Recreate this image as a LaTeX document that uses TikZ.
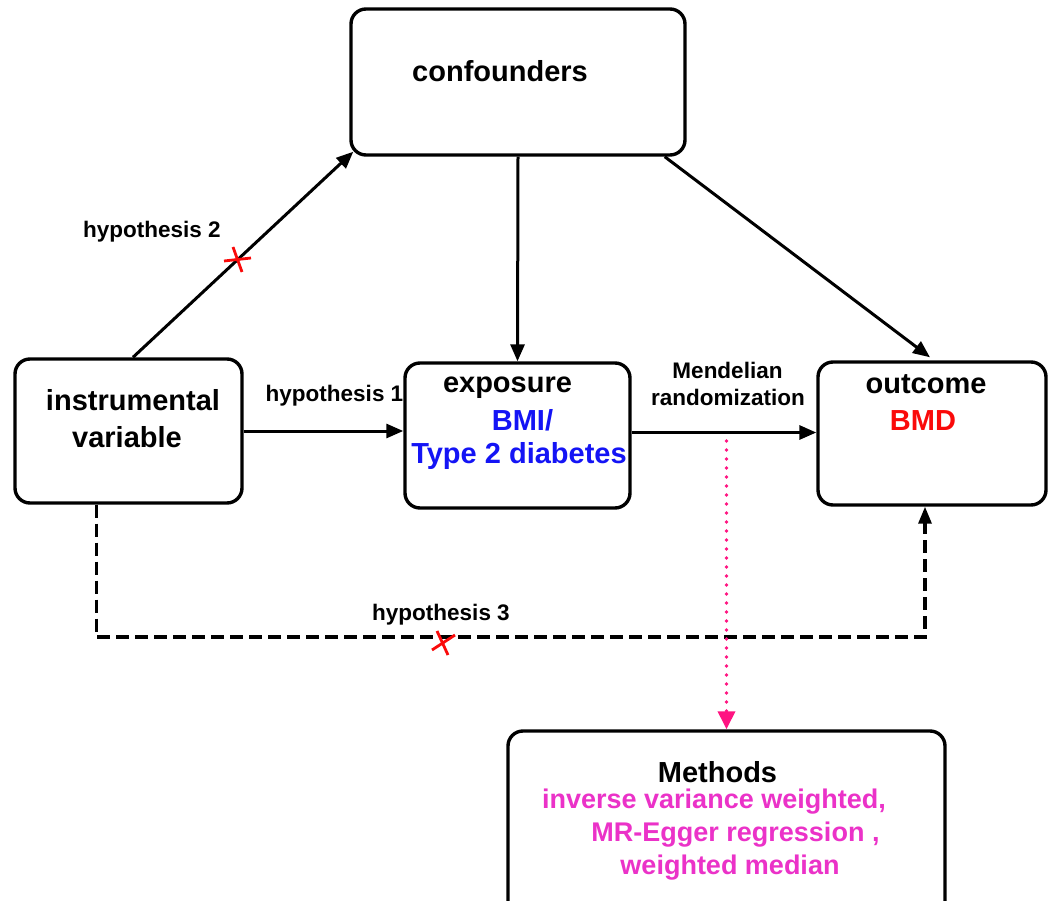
\documentclass[tikz,border=0pt]{standalone}
\usepackage{fontspec}
\setmainfont{Liberation Sans}
\usetikzlibrary{arrows.meta,calc}
\definecolor{bluetxt}{RGB}{20,20,245}
\definecolor{redtxt}{RGB}{250,10,10}
\definecolor{pinktxt}{RGB}{235,50,200}
\definecolor{pinkline}{RGB}{255,20,130}
\begin{document}
\begin{tikzpicture}[x=1pt,y=-1pt,
  box/.style={draw,line width=3.4pt,rounded corners=15pt,inner sep=0pt,fill=none},
  txt/.style={font=\bfseries\fontsize{29}{33}\selectfont,inner sep=0pt,anchor=base},
  mtxt/.style={font=\bfseries\fontsize{27}{33}\selectfont,inner sep=0pt,anchor=base,text=pinktxt},
  lbl/.style={font=\bfseries\fontsize{22.5}{26}\selectfont,inner sep=0pt,anchor=base},
  arr/.style={line width=3pt,-{Triangle[length=17pt,width=14pt]}},
  dasharr/.style={line width=3.2pt,dash pattern=on 13pt off 6pt,-{Triangle[length=17pt,width=13pt]}},
  dotarr/.style={draw=pinkline,line width=3.6pt,line cap=round,dash pattern=on 0pt off 9pt,
     -{Triangle[length=18pt,width=17pt,fill=pinkline,line cap=butt]}},
  redx/.style={draw=redtxt,line width=2.8pt}]
\clip (0,0) rectangle (1050,901);
\fill[white] (0,0) rectangle (1050,901);

% boxes
\node[box,minimum width=334pt,minimum height=146pt] (conf) at (518,82) {};
\node[box,minimum width=227pt,minimum height=144pt] (iv) at (128.5,431) {};
\node[box,minimum width=225pt,minimum height=145pt] (exp) at (517.5,435.5) {};
\node[box,minimum width=228pt,minimum height=143pt] (out) at (932,433.5) {};
\node[box,minimum width=437pt,minimum height=189pt] (meth) at (726.5,825.5) {};

% box texts
\node[txt] (tconf) at (500,82) {confounders};
\node[txt] (tiv1) at (133,410) {instrumental};
\node[txt] (tiv2) at (127,447) {variable};
\node[txt] (texp) at (507.5,392) {exposure};
\node[txt,text=bluetxt] (tbmi) at (522.5,430) {BMI/};
\node[txt,text=bluetxt] (tt2d) at (519,463) {Type 2 diabetes};
\node[txt] (tout) at (926,393) {outcome};
\node[txt,text=redtxt] (tbmd) at (923,430) {BMD};
\node[txt] (tmeth) at (717.5,782) {Methods};
\node[mtxt] (tm1) at (714,808) {inverse variance weighted,};
\node[mtxt] (tm2) at (735.5,841) {MR-Egger regression ,};
\node[mtxt] (tm3) at (730,874) {weighted median};

% labels
\node[lbl] (h2) at (152,238) {hypothesis 2};
\node[lbl] (h1) at (334.5,402) {hypothesis 1};
\node[lbl] (mr1) at (727.5,378) {Mendelian};
\node[lbl] (mr2) at (728,405) {randomization};
\node[lbl] (h3) at (441,620) {hypothesis 3};

% connectors
\draw[arr] ($(iv.north)+(4.5,0)$) -- ($(conf.south west)+(4,-5)$);
\draw[arr] (conf.south) -- (exp.north);
\draw[arr] ($(conf.south east)+(-22,0)$) -- ($(out.north)+(-2,-3)$);
\draw[arr] (iv.east) -- (iv.east -| exp.west);
\draw[arr] ($(exp.east)+(0,-3)$) coordinate (e0) -- (e0 -| out.west);

\coordinate (hy) at (0,637);
\coordinate (d0) at ($(iv.south)+(-32,0)$);
\coordinate (d1) at ($(out.south)+(-7,0)$);
\draw[dasharr] (d0) -- (d0 |- hy) -- (d1 |- hy) -- (d1);

\coordinate (mrs) at (726.5,441);
\draw[dotarr] (mrs) -- (meth.north);

% red crosses
\draw[redx] (224,261) -- (251,258) (233,247) -- (242,272);
\draw[redx] (437,631) -- (448,655) (432,650) -- (455,635);
\end{tikzpicture}
\end{document}
